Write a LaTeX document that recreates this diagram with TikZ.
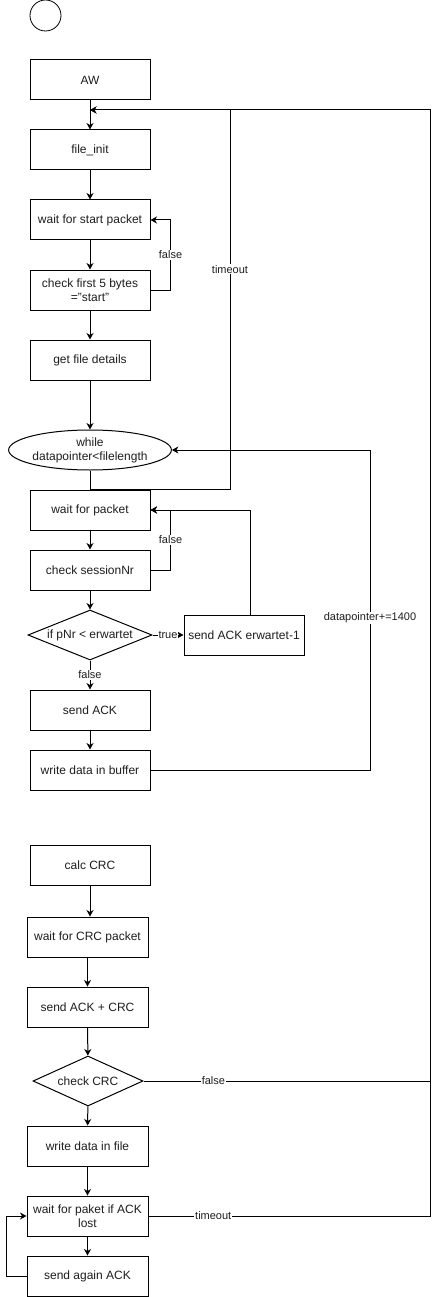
\documentclass[tikz,border=0pt]{standalone}
\usepackage{fontspec}
\setmainfont{Liberation Sans}
\usetikzlibrary{arrows.meta,shapes.geometric}
\definecolor{ink}{HTML}{000000}
\definecolor{labeltext}{HTML}{1E1E1E}
\tikzset{
  every node/.style={font=\fontsize{12}{14}\selectfont, text=labeltext},
  flow/.style={-{Stealth[length=6.5pt,width=7pt,inset=2pt]}, draw=ink,
    line width=1pt},
  plain/.style={draw=ink, line width=1pt},
  proc/.style={rectangle, draw=ink, line width=1pt, fill=white,
    minimum width=120pt, minimum height=40pt, align=center, inner sep=2pt},
  decision/.style={diamond, draw=ink, line width=1pt, fill=white,
    aspect=2.5, minimum height=50pt, inner sep=0pt},
  loophead/.style={ellipse, draw=ink, line width=1pt, fill=white,
    minimum width=142pt, minimum height=40pt, inner sep=0pt, align=center},
  startpoint/.style={circle, draw=ink, line width=0.8pt,
    minimum size=31pt, inner sep=0pt},
  edgelabel/.style={font=\fontsize{11}{13}\selectfont, fill=white,
    inner sep=1pt}
}

\begin{document}
\begin{tikzpicture}[x=1pt,y=-1pt]
  \useasboundingbox (0,0) rectangle (440,1297);

  % Start and file set-up.
  \node[startpoint] (start) at (45.5,15.5) {};
  \node[proc] (aw) at (90,80) {AW};
  \node[proc] (fileinit) at (90,150) {file\_init};
  \node[proc] (waitstart) at (90,220) {wait for start packet};
  \node[proc] (checkstart) at (90,290) {check first 5 bytes\\="start"};
  \node[proc] (details) at (90,360) {get file details};
  \coordinate (join) at (90,110);

  % Receive loop.
  \node[loophead] (loop) at (90,450) {while\\datapointer<filelength};
  \node[proc] (waitpkt) at (90,510) {wait for packet};
  \node[proc] (checksess) at (90,570) {check sessionNr};
  \node[decision, minimum width=124pt] (ifpnr) at (90,635) {if pNr < erwartet};
  \node[proc] (ackprev) at (244,635) {send ACK erwartet-1};
  \node[proc] (sendack) at (90,710) {send ACK};
  \node[proc] (writebuf) at (90,770) {write data in buffer};
  \coordinate (tmtop) at (230,110);
  \coordinate (dpc) at (370,770);

  % CRC check and finish.
  \node[proc] (calccrc) at (90,865) {calc CRC};
  \node[proc, minimum width=121pt] (waitcrc) at (87.5,937) {wait for CRC packet};
  \node[proc, minimum width=121pt] (sendcrc) at (87.5,1007) {send ACK + CRC};
  \node[decision, minimum width=110pt] (checkcrc) at (88,1081) {check CRC};
  \node[proc, minimum width=121pt] (writefile) at (87.5,1146) {write data in file};
  \node[proc, minimum width=121pt] (waitlost) at (87.5,1216)
    {wait for paket if ACK\\lost};
  \node[proc, minimum width=121pt] (resend) at (87.5,1276) {send again ACK};
  \coordinate (rtcrc) at (430,1081);

  \draw[flow] (aw) -- (fileinit);
  \draw[flow] (fileinit) -- (waitstart);
  \draw[flow] (waitstart) -- (checkstart);
  \draw[flow] (checkstart.east) -- ++(20,0)
    |- node[edgelabel, pos=0.25] {false} (waitstart.east);
  \draw[flow] (checkstart) -- (details);
  \draw[flow] (details) -- (loop);

  \draw[plain] (loop) -- (waitpkt);
  \draw[flow] (waitpkt.north) -| node[edgelabel, pos=0.79] {timeout} (tmtop)
    -- (join);
  \draw[flow] (waitpkt) -- (checksess);
  \draw[flow] (checksess.east) -- ++(20,0)
    |- node[edgelabel, pos=0.25] {false} (waitpkt.east);
  \draw[flow] (checksess) -- (ifpnr);
  \draw[flow] (ifpnr) -- node[edgelabel] {true} (ackprev);
  \draw[flow] ([xshift=6pt]ackprev.north) |- (waitpkt.east);
  \draw[flow] (ifpnr) -- node[edgelabel] {false} (sendack);
  \draw[flow] (sendack) -- (writebuf);
  \draw[flow] (writebuf.east) -- (dpc)
    |- node[edgelabel, pos=0.2375] {datapointer+=1400} (loop.east);

  \draw[flow] (calccrc.south) -- (calccrc.south |- waitcrc.north);
  \draw[flow] (waitcrc) -- (sendcrc);
  \draw[flow] (sendcrc) -- (checkcrc);
  \draw[flow] (checkcrc.east) -- node[edgelabel, pos=0.244] {false} (rtcrc)
    |- (join);
  \draw[flow] (checkcrc) -- (writefile);
  \draw[flow] (writefile) -- (waitlost);
  \draw[plain] (waitlost.east) -| node[edgelabel, pos=0.115] {timeout} (rtcrc);
  \draw[flow] (waitlost) -- (resend);
  \draw[flow] (resend.west) -- ++(-20,0) |- (waitlost.west);
\end{tikzpicture}
\end{document}
